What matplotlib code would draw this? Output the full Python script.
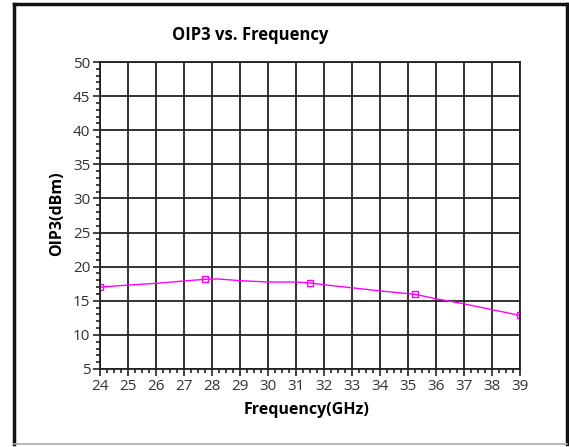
import matplotlib.pyplot as plt
from matplotlib.lines import Line2D
from matplotlib.ticker import MultipleLocator

# curve
freq = [24, 25, 26, 27, 27.75, 28.2, 29, 30, 31, 31.5, 32, 33, 34, 35, 35.25, 36, 37, 38, 39]
oip3 = [17.0, 17.3, 17.55, 17.9, 18.15, 18.2, 17.95, 17.75, 17.75, 17.6, 17.35, 16.9, 16.45, 16.05, 15.95, 15.3, 14.55, 13.7, 12.85]
# square markers
mk_freq = [24, 27.75, 31.5, 35.25, 39]
mk_oip3 = [17.0, 18.15, 17.6, 15.95, 12.85]

plt.rcParams['font.family'] = ['Open Sans', 'DejaVu Sans']

W, H = 569, 447
fig = plt.figure(figsize=(W / 100, H / 100), dpi=100)
ax = fig.add_axes([100 / W, 1 - 369 / H, 420 / W, 307 / H])

ax.plot(freq, oip3, color='#ff00ff', lw=1.0)
ax.plot(mk_freq, mk_oip3, ls='none', marker='s', ms=5, mfc='none', mec='#ff00ff', mew=1.0)

ax.set_xlim(24, 39)
ax.set_ylim(5, 50)
ax.xaxis.set_major_locator(MultipleLocator(1))
ax.xaxis.set_minor_locator(MultipleLocator(0.25))
ax.yaxis.set_major_locator(MultipleLocator(5))
ax.yaxis.set_minor_locator(MultipleLocator(1))
ax.grid(True, which='major', color='#222222', lw=1.3)
for s in ax.spines.values():
    s.set_color('#222222')
    s.set_linewidth(1.3)
ax.tick_params(which='major', direction='out', length=5, width=1.2, color='#222222',
               labelsize=11, labelcolor='#333333', pad=2)
ax.tick_params(which='minor', direction='out', length=3, width=1.2, color='#222222')

fig.text(250 / W, 1 - 35 / H, 'OIP3 vs. Frequency', ha='center', va='center',
         fontsize=12, fontweight='bold')
fig.text(307 / W, 1 - 410 / H, 'Frequency(GHz)', ha='center', va='center',
         fontsize=11.5, fontweight='bold')
fig.text(57 / W, 1 - 214 / H, 'OIP3(dBm)', ha='center', va='center', rotation=90,
         fontsize=11.5, fontweight='bold')

# outer frame: dark top/left/right, light bottom
def fline(x0, y0, x1, y1, c, lw):
    fig.add_artist(Line2D([x0 / W, x1 / W], [1 - y0 / H, 1 - y1 / H],
                          transform=fig.transFigure, color=c, lw=lw))

fline(13.5, 3.5, 566.5, 3.5, '#111111', 2.5)
fline(13.5, 3.5, 13.5, 444, '#111111', 2.5)
fline(566.5, 3.5, 566.5, 444, '#111111', 2.5)
fline(13.5, 444, 566.5, 444, '#aaaaaa', 1.2)

fig.savefig('out.png', dpi=100)
